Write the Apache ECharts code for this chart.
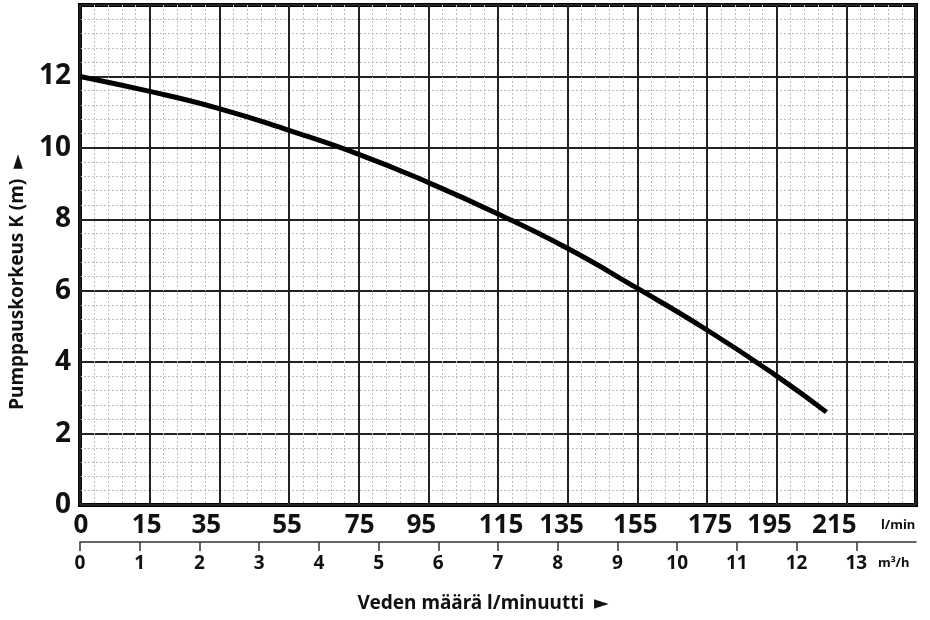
<!DOCTYPE html>
<html>
<head>
<meta charset="utf-8">
<script src="https://cdn.jsdelivr.net/npm/echarts@6/dist/echarts.min.js"></script>
<style>
html,body{margin:0;padding:0;background:#fff;}
#chart{width:930px;height:620px;}
</style>
</head>
<body>
<div id="chart"></div>
<script>
// Flow in m3/h and pumping head in metres
const flowM3h = [0, 1.17, 2.33, 3.5, 4.67, 5.83, 7.0, 8.17, 9.33, 10.5, 11.67, 12.5];
const headM   = [12.0, 11.58, 11.1, 10.49, 9.82, 9.03, 8.15, 7.18, 6.07, 4.9, 3.61, 2.6];
// Upper (l/min) tick labels placed at the 12 main grid columns
const lminLabels = ['0', '15', '35', '55', '75', '95', '115', '135', '155', '175', '195', '215', ''];
const m3hTicks = [0, 1, 2, 3, 4, 5, 6, 7, 8, 9, 10, 11, 12, 13];
const yTicks = [0, 2, 4, 6, 8, 10, 12];

const FONT = '"Noto Sans", "DejaVu Sans", sans-serif';
// small horizontal nudges (px) for the l/min labels, as in the original print
const lminShift = [1, -3, -13, -2, 1, -7, 3, -6, -2, 3, -7, -12, 0];

const rich = {};
lminShift.forEach((s, i) => {
  rich['s' + i] = {
    fontSize: 26, fontWeight: 'bold', fontFamily: FONT, color: '#111',
    padding: s < 0 ? [0, -2 * s, 0, 0] : [0, 0, 0, 2 * s]
  };
});

const chart = echarts.init(document.getElementById('chart'), null, {renderer: 'canvas'});
chart.setOption({
  backgroundColor: '#fff',
  animation: false,
  grid: {
    left: 80, right: 14, top: 5, bottom: 115,
    show: true, borderColor: '#000', borderWidth: 4, backgroundColor: 'transparent'
  },
  xAxis: [
    {
      type: 'value', min: 0, max: 12, interval: 1, position: 'bottom',
      axisLine: {show: false}, axisTick: {show: false},
      axisLabel: {
        margin: 8,
        formatter: (v) => {
          const i = Math.round(v);
          return lminLabels[i] ? '{s' + i + '|' + lminLabels[i] + '}' : '';
        },
        rich: rich
      },
      splitLine: {show: true, lineStyle: {color: '#222', width: 2}},
      minorTick: {show: false, splitNumber: 5},
      minorSplitLine: {show: true, lineStyle: {color: '#bbbbbb', width: 1, type: [2, 2]}}
    },
    {
      type: 'value', min: 0, max: 14, interval: 1, position: 'bottom', offset: 37,
      axisLine: {show: true, lineStyle: {color: '#333', width: 1.5}},
      axisTick: {show: true, length: 9, lineStyle: {color: '#333', width: 1.5},
        customValues: m3hTicks},
      axisLabel: {
        margin: 12, fontSize: 19, fontWeight: 'bold', fontFamily: FONT, color: '#111',
        customValues: m3hTicks,
        formatter: (v) => (m3hTicks.indexOf(v) >= 0 ? String(v) : '')
      },
      splitLine: {show: false}
    }
  ],
  yAxis: {
    type: 'value', min: 0, max: 14, interval: 2,
    axisLine: {show: false}, axisTick: {show: false},
    axisLabel: {
      margin: 9, fontSize: 28, fontWeight: 'bold', fontFamily: FONT, color: '#111',
      formatter: (v) => (yTicks.indexOf(v) >= 0 ? String(v) : '')
    },
    splitLine: {show: true, lineStyle: {color: '#222', width: 2}},
    minorTick: {show: false, splitNumber: 5},
    minorSplitLine: {show: true, lineStyle: {color: '#bbbbbb', width: 1, type: [2, 2]}}
  },
  series: [{
    type: 'line',
    xAxisIndex: 1,
    data: flowM3h.map((x, i) => [x, headM[i]]),
    smooth: 0.5,
    symbol: 'none',
    lineStyle: {color: '#000', width: 5},
    z: 5
  }],
  graphic: [
    {type: 'text', left: 881, top: 519,
      style: {text: 'l/min', fontSize: 13, fontWeight: 'bold', fontFamily: FONT, fill: '#111'}},
    {type: 'text', left: 878, top: 557,
      style: {text: 'm³/h', fontSize: 13, fontWeight: 'bold', fontFamily: FONT, fill: '#111'}},
    {type: 'text', x: 483, y: 604,
      style: {text: 'Veden määrä l/minuutti  ►', fontSize: 19, fontWeight: 'bold', fontFamily: FONT,
        fill: '#111', align: 'center', verticalAlign: 'middle'}},
    {type: 'text', x: 18, y: 282, rotation: Math.PI / 2,
      style: {text: 'Pumppauskorkeus K (m)  ►', fontSize: 19, fontWeight: 'bold', fontFamily: FONT,
        fill: '#111', align: 'center', verticalAlign: 'middle'}}
  ]
});
</script>
</body>
</html>
